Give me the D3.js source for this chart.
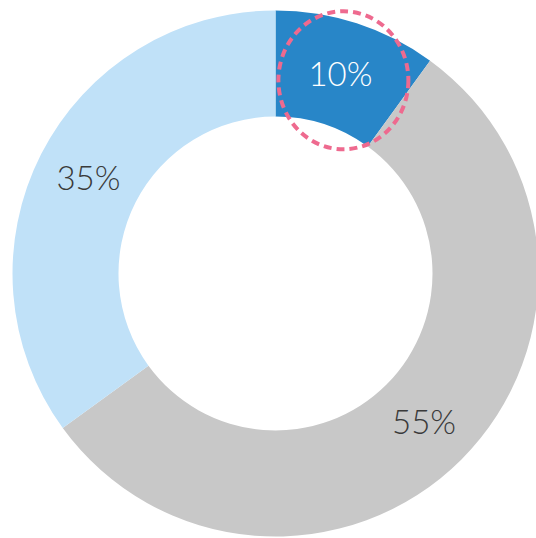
<!DOCTYPE html>
<html>
<head>
<meta charset="utf-8">
<script src="https://cdn.jsdelivr.net/npm/d3@7"></script>
<style>
  html, body { margin: 0; padding: 0; background: #fff; overflow: hidden; }
  svg { display: block; }
</style>
</head>
<body>
<svg id="chart" width="536" height="538"></svg>
<script>
const categories = ["A", "B", "C"];
const values = [10, 55, 35];
const labels = ["10%", "55%", "35%"];
const colors = ["#2886C8", "#C8C8C8", "#C0E1F8"];
const labelColors = ["#FFFFFF", "#3A3A3A", "#3A3A3A"];
const highlightIndex = 0;

const svg = d3.select("#chart");
const cx = 275.5, cy = 273.5;
const outerR = 263, innerR = 157;

const pie = d3.pie().sort(null).value(d => d.value);
const data = categories.map((c, i) => ({ cat: c, value: values[i], label: labels[i], color: colors[i], lc: labelColors[i] }));
const arcs = pie(data);
const arc = d3.arc().innerRadius(innerR).outerRadius(outerR);

const g = svg.append("g").attr("transform", `translate(${cx},${cy})`);

g.selectAll("path.slice")
  .data(arcs)
  .join("path")
  .attr("class", "slice")
  .attr("d", arc)
  .attr("fill", d => d.data.color);

g.selectAll("text.lbl")
  .data(arcs)
  .join("text")
  .attr("class", "lbl")
  .attr("transform", d => { const [x, y] = arc.centroid(d); return `translate(${x},${y})`; })
  .attr("text-anchor", "middle")
  .attr("dy", "0.36em")
  .attr("font-family", "'Century Gothic', Lato, 'Open Sans', sans-serif")
  .attr("font-weight", 300)
  .attr("font-size", 33)
  .attr("fill", d => d.data.lc)
  .text(d => d.data.label);

// dashed highlight ellipse around the highlighted slice label
const hc = arc.centroid(arcs[highlightIndex]);
g.append("ellipse")
  .attr("cx", hc[0] + 3)
  .attr("cy", hc[1] + 6.5)
  .attr("rx", 65)
  .attr("ry", 69)
  .attr("fill", "none")
  .attr("stroke", "#EE6A8F")
  .attr("stroke-width", 4)
  .attr("stroke-dasharray", "8,5");
</script>
</body>
</html>
